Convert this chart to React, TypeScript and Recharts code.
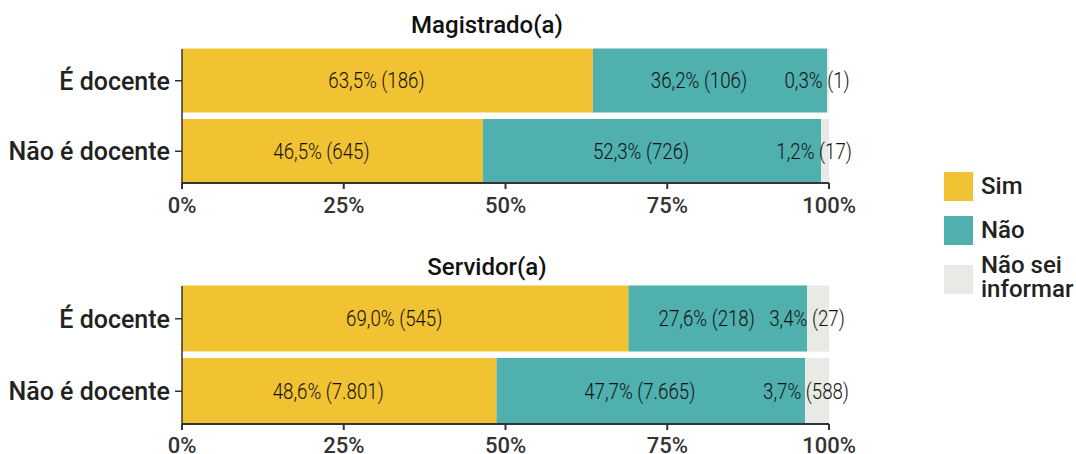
import { BarChart, Bar, XAxis, YAxis, LabelList } from 'recharts';

const categories = ['É docente', 'Não é docente'];

// Magistrado(a)
const magSim = [63.5, 46.5];
const magNao = [36.2, 52.3];
const magNaoSei = [0.3, 1.2];
const magSimN = [186, 645];
const magNaoN = [106, 726];
const magNaoSeiN = [1, 17];

// Servidor(a)
const serSim = [69.0, 48.6];
const serNao = [27.6, 47.7];
const serNaoSei = [3.4, 3.7];
const serSimN = [545, 7801];
const serNaoN = [218, 7665];
const serNaoSeiN = [27, 588];

const xTicks = [0, 25, 50, 75, 100];

const COLORS = { sim: '#F1C232', nao: '#4FB0AE', naoSei: '#E8EAE5' };
const FONT = 'Roboto, "Noto Sans", sans-serif';

const fmtPct = (v: number) => v.toFixed(1).replace('.', ',') + '%';
const fmtN = (n: number) => String(n).replace(/\B(?=(\d{3})+(?!\d))/g, '.');

const buildRows = (sim: number[], nao: number[], ns: number[]) =>
    categories.map((cat, i) => ({ cat, sim: sim[i], nao: nao[i], naoSei: ns[i] }));

const makeLabel = (counts: number[]) => (props: any) => {
    const vb = props.viewBox || props;
    const x = Number(vb.x ?? props.x);
    const y = Number(vb.y ?? props.y);
    const w = Number(vb.width ?? props.width);
    const h = Number(vb.height ?? props.height);
    const cx = x + w / 2 - 11;
    const cy = y + h / 2;
    const text = `${fmtPct(Number(props.value))} (${fmtN(counts[props.index])})`;
    return (
        <text
            transform={`translate(${cx},${cy}) scale(0.85,1)`}
            textAnchor="middle"
            dominantBaseline="central"
            fontFamily={FONT}
            fontWeight={300}
            fontSize={22}
            fill="#111"
        >
            {text}
        </text>
    );
};

interface PanelProps {
    top: number;
    height: number;
    plotTop: number;
    barSize: number;
    tickMargin: number;
    sim: number[];
    nao: number[];
    ns: number[];
    simN: number[];
    naoN: number[];
    nsN: number[];
}

function Panel({ top, height, plotTop, barSize, tickMargin, sim, nao, ns, simN, naoN, nsN }: PanelProps) {
    const data = buildRows(sim, nao, ns);
    return (
        <div style={{ position: 'absolute', left: 0, top }}>
            <BarChart
                width={860}
                height={height}
                data={data}
                layout="vertical"
                margin={{ top: plotTop, right: 31, bottom: 0, left: 0 }}
                barCategoryGap={0}
            >
                <XAxis
                    type="number"
                    domain={[0, 100]}
                    ticks={xTicks}
                    tickFormatter={(v) => `${v}%`}
                    height={height - plotTop - 134 - (barSize - 64) * 2}
                    stroke="#333"
                    strokeWidth={2}
                    tickSize={6}
                    tickMargin={tickMargin}
                    tick={{ fontFamily: FONT, fontSize: 22, fontWeight: 500, fill: '#333' }}
                    allowDataOverflow
                />
                <YAxis
                    type="category"
                    dataKey="cat"
                    width={182}
                    padding={{ top: -3.5, bottom: -3.5 }}
                    stroke="#333"
                    strokeWidth={1.5}
                    tickSize={7}
                    tickMargin={5}
                    tick={{ fontFamily: FONT, fontSize: 25, fontWeight: 500, fill: '#222' }}
                />
                <Bar dataKey="sim" stackId="a" fill={COLORS.sim} barSize={barSize} isAnimationActive={false}>
                    <LabelList dataKey="sim" content={makeLabel(simN)} />
                </Bar>
                <Bar dataKey="nao" stackId="a" fill={COLORS.nao} barSize={barSize} isAnimationActive={false}>
                    <LabelList dataKey="nao" content={makeLabel(naoN)} />
                </Bar>
                <Bar dataKey="naoSei" stackId="a" fill={COLORS.naoSei} barSize={barSize} isAnimationActive={false}>
                    <LabelList dataKey="naoSei" content={makeLabel(nsN)} />
                </Bar>
            </BarChart>
        </div>
    );
}

const titleStyle = (top: number): React.CSSProperties => ({
    position: 'absolute',
    left: 337,
    width: 300,
    top,
    textAlign: 'center',
    fontFamily: FONT,
    fontWeight: 500,
    fontSize: 24,
    lineHeight: '28px',
    color: '#111',
});

const legendItems = [
    { label: 'Sim', color: COLORS.sim, top: 172 },
    { label: 'Não', color: COLORS.nao, top: 216 },
    { label: 'Não sei\ninformar', color: COLORS.naoSei, top: 265 },
];

export default function App() {
    return (
        <div
            style={{
                position: 'absolute',
                left: 0,
                top: 0,
                width: 1076,
                height: 454,
                background: '#fff',
                overflow: 'hidden',
            }}
        >
            <div style={titleStyle(11)}>Magistrado(a)</div>
            <Panel
                top={0}
                height={230}
                plotTop={49}
                barSize={64}
                tickMargin={8}
                sim={magSim}
                nao={magNao}
                ns={magNaoSei}
                simN={magSimN}
                naoN={magNaoN}
                nsN={magNaoSeiN}
            />
            <div style={titleStyle(253)}>Servidor(a)</div>
            <Panel
                top={240}
                height={214}
                plotTop={46}
                barSize={66}
                tickMargin={7}
                sim={serSim}
                nao={serNao}
                ns={serNaoSei}
                simN={serSimN}
                naoN={serNaoN}
                nsN={serNaoSeiN}
            />
            {legendItems.map((item) => (
                <div key={item.label}>
                    <div
                        style={{
                            position: 'absolute',
                            left: 944,
                            top: item.top,
                            width: 29,
                            height: 29,
                            background: item.color,
                        }}
                    />
                    <div
                        style={{
                            position: 'absolute',
                            left: 981,
                            top: item.label.includes('\n') ? item.top - 12 : item.top,
                            fontFamily: FONT,
                            fontWeight: 500,
                            fontSize: 24,
                            lineHeight: item.label.includes('\n') ? '24px' : '29px',
                            color: '#222',
                            whiteSpace: 'pre',
                        }}
                    >
                        {item.label}
                    </div>
                </div>
            ))}
        </div>
    );
}
